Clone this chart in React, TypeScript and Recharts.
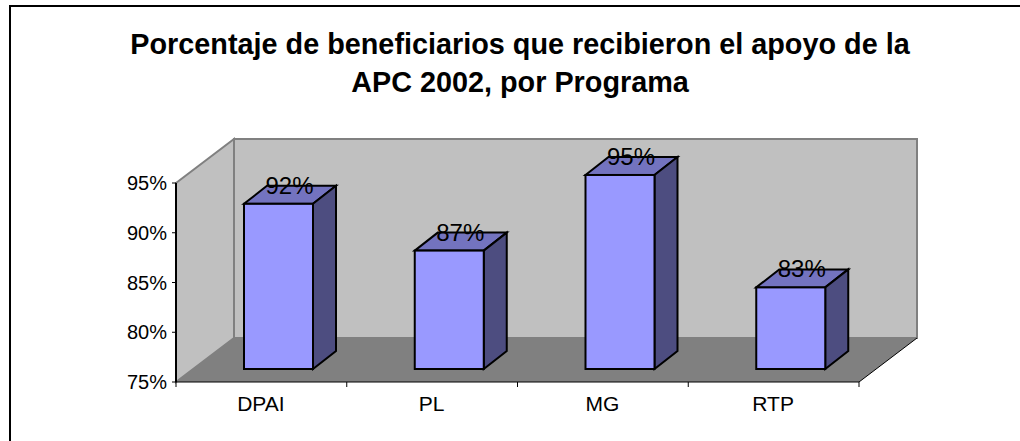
import React from "react";
import { BarChart, Bar, XAxis, YAxis, ReferenceArea, LabelList } from "recharts";

const categories = ["DPAI", "PL", "MG", "RTP"];
const values = [91.6, 86.9, 94.5, 83.2];
const yTicks = [75, 80, 85, 90, 95];
const titleLines = [
  "Porcentaje de beneficiarios que recibieron el apoyo de la",
  "APC 2002, por Programa",
];
const rows = categories.map((name, i) => ({ name, value: values[i] }));

const FONT = "'Liberation Sans', Arial, sans-serif";
const WALL = { dx: 58, dy: -44 };
const BAR_SHIFT = { dx: 17, dy: -13 };
const BAR_DEPTH = { dx: 23, dy: -18 };

function Walls(props: any) {
  const { x, y, width, height } = props;
  const b = y + height;
  const r = x + width;
  const bx = x + WALL.dx;
  const by = y + WALL.dy;
  const fy = b + WALL.dy;
  return (
    <g>
      <polygon points={`${bx},${by} ${bx + width},${by} ${bx + width},${fy} ${bx},${fy}`} fill="#C0C0C0" stroke="#808080" strokeWidth={2} />
      <polygon points={`${x},${y} ${bx},${by} ${bx},${fy} ${x},${b}`} fill="#C0C0C0" stroke="#808080" strokeWidth={2} />
      <polygon points={`${x},${b} ${bx},${fy} ${bx + width},${fy} ${r},${b}`} fill="#808080" />
      <line x1={r} y1={b} x2={bx + width} y2={fy} stroke="#000" strokeWidth={1} />
    </g>
  );
}

function Bar3D(props: any) {
  const { x, y, width, height } = props;
  const l = x + BAR_SHIFT.dx;
  const t = y + BAR_SHIFT.dy;
  const rr = l + width;
  const bt = t + height;
  const { dx, dy } = BAR_DEPTH;
  const common = { stroke: "#000", strokeWidth: 2, strokeLinejoin: "miter" as const };
  return (
    <g>
      <polygon points={`${l},${t} ${l + dx},${t + dy} ${rr + dx},${t + dy} ${rr},${t}`} fill="#7373BF" {...common} />
      <polygon points={`${rr},${t} ${rr + dx},${t + dy} ${rr + dx},${bt + dy} ${rr},${bt}`} fill="#4D4D80" {...common} />
      <rect x={l} y={t} width={width} height={height} fill="#9999FF" {...common} />
    </g>
  );
}

function ValueLabel(props: any) {
  const { x, y, width, value } = props;
  return (
    <text
      x={x + width / 2 + BAR_SHIFT.dx + 11}
      y={y - 23}
      textAnchor="middle"
      fontFamily={FONT}
      fontSize={24}
      fill="#000"
    >
      {`${Math.round(value)}%`}
    </text>
  );
}

function CatTick(props: any) {
  const { x, payload, index } = props;
  const half = payload.offset ?? 85.4;
  const axisY = 382;
  return (
    <g>
      <line x1={x - half} x2={x - half} y1={axisY} y2={axisY + 5} stroke="#000" strokeWidth={1} />
      {index === categories.length - 1 && (
        <line x1={x + half} x2={x + half} y1={axisY} y2={axisY + 5} stroke="#000" strokeWidth={1} />
      )}
      <text x={x - 0.5} y={411} textAnchor="middle" fontFamily={FONT} fontSize={21} fill="#000">
        {payload.value}
      </text>
    </g>
  );
}

export default function App() {
  return (
    <div style={{ position: "absolute", left: 0, top: 0, width: 1020, height: 441, background: "#fff" }}>
      <BarChart
        width={1020}
        height={441}
        data={rows}
        margin={{ top: 183, right: 161, bottom: 0, left: 116 }}
        barSize={69}
      >
        <line x1={10} y1={6} x2={1020} y2={6} stroke="#000" strokeWidth={2} />
        <line x1={10} y1={5} x2={10} y2={441} stroke="#000" strokeWidth={2} />
        {titleLines.map((t, i) => (
          <text key={t} x={520} y={54 + i * 38} textAnchor="middle" fontFamily={FONT} fontWeight="bold" fontSize={28.8} fill="#000">
            {t}
          </text>
        ))}
        <ReferenceArea y1={75} y2={95} shape={Walls} ifOverflow="visible" />
        <XAxis
          dataKey="name"
          height={59}
          tick={CatTick}
          tickLine={false}
          axisLine={{ stroke: "#000", strokeWidth: 1 }}
          interval={0}
        />
        <YAxis
          width={60}
          domain={[75, 95]}
          ticks={yTicks}
          tickFormatter={(v: number) => `${v}%`}
          tick={{ fontFamily: FONT, fontSize: 20, fill: "#000" }}
          tickSize={4}
          tickMargin={5}
          tickLine={{ stroke: "#000" }}
          axisLine={{ stroke: "#000", strokeWidth: 2 }}
        />
        <Bar dataKey="value" shape={Bar3D} isAnimationActive={false}>
          <LabelList dataKey="value" content={ValueLabel} />
        </Bar>
      </BarChart>
    </div>
  );
}
